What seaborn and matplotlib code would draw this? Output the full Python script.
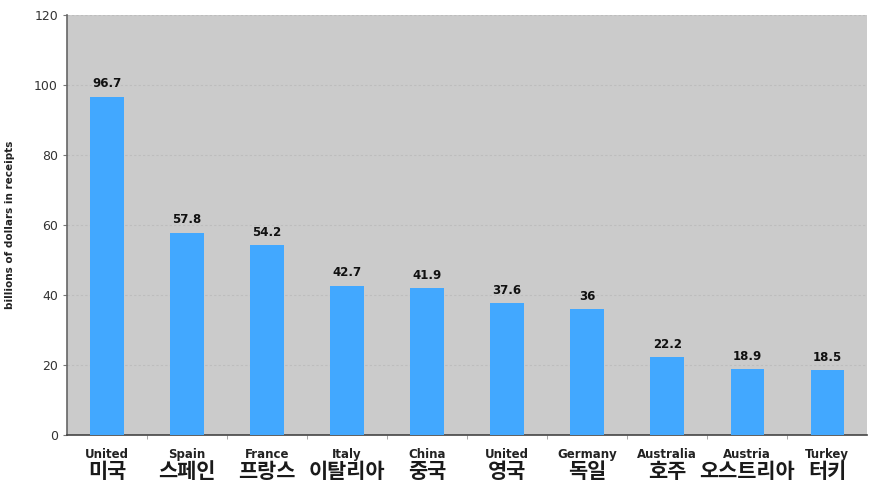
import matplotlib
matplotlib.use("Agg")
import matplotlib.pyplot as plt
import matplotlib.transforms as mtransforms
import seaborn as sns
import pandas as pd
import numpy as np


# Data
countries_en = ["United", "Spain", "France", "Italy", "China",
                "United", "Germany", "Australia", "Austria", "Turkey"]
countries_ko = ["미국", "스페인", "프랑스", "이탈리아", "중국",
                "영국", "독일", "호주", "오스트리아", "터키"]
receipts = [96.7, 57.8, 54.2, 42.7, 41.9, 37.6, 36, 22.2, 18.9, 18.5]
value_labels = ["96.7", "57.8", "54.2", "42.7", "41.9",
                "37.6", "36", "22.2", "18.9", "18.5"]

df = pd.DataFrame({"country": countries_ko, "receipts": receipts})

sns.set_style("white")
plt.rcParams["font.family"] = ["DejaVu Sans", "Noto Sans CJK KR"]

fig = plt.figure(figsize=(8.7, 4.82), dpi=100)
ax = fig.add_axes([0.077, 0.0975, 0.92, 0.8715])
ax.set_facecolor("#cbcbcb")

sns.barplot(data=df, x="country", y="receipts", color="#42a8ff",
            saturation=1, width=0.42, linewidth=0, ax=ax, zorder=3)

ax.set_ylim(0, 120)
ax.set_xlim(-0.5, len(receipts) - 0.5)
ax.set_yticks(np.arange(0, 121, 20))
ax.tick_params(axis="y", labelsize=9, labelcolor="#333333", length=3,
               color="#777777", left=True)
ax.yaxis.grid(True, color="#bdbdbd", linestyle=(0, (2, 2)), linewidth=0.8)
ax.set_axisbelow(True)

# value labels
for i, (v, lab) in enumerate(zip(receipts, value_labels)):
    ax.text(i, v + 1.8, lab, ha="center", va="bottom", fontsize=8.5,
            fontweight="bold", color="#111111", zorder=4)

# x labels: English (bold, small) and Korean (large) underneath
ax.set_xticks(range(len(receipts)))
ax.set_xticklabels([])
ax.set_xticks(np.arange(0.5, len(receipts) - 0.5), minor=True)
ax.tick_params(axis="x", which="major", length=0)
ax.tick_params(axis="x", which="minor", length=3, color="#999999",
               bottom=True)
ax.set_xlabel("")

trans = mtransforms.blended_transform_factory(ax.transData, fig.transFigure)
for i in range(len(receipts)):
    ax.text(i, 1 - 458 / 482, countries_en[i], transform=trans, ha="center",
            va="baseline", fontsize=8.5, fontweight="bold", color="#222222")
    ax.text(i, 1 - 471 / 482, countries_ko[i], transform=trans, ha="center",
            va="center", fontsize=15, fontweight="bold", color="#1a1a1a",
            family=["Noto Sans CJK KR", "DejaVu Sans"])

ax.set_ylabel("billions of dollars in receipts", fontsize=7.5,
              fontweight="bold", color="#222222", labelpad=14)

for side in ["top", "right"]:
    ax.spines[side].set_visible(False)
ax.spines["left"].set_color("#666666")
ax.spines["bottom"].set_color("#444444")
ax.spines["left"].set_linewidth(1.2)
ax.spines["bottom"].set_linewidth(1.2)

fig.savefig("out.png", dpi=100)
